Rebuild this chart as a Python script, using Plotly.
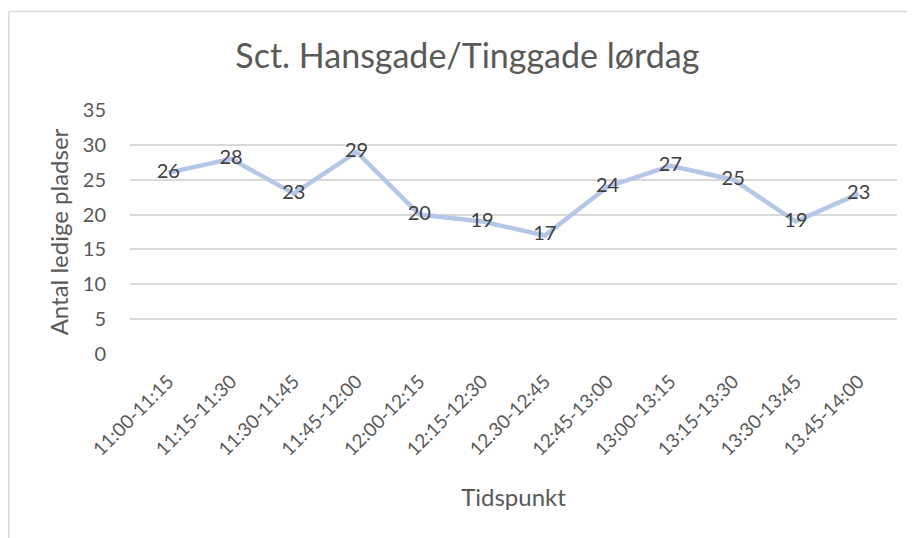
import plotly.graph_objects as go

categories = ["11:00-11:15", "11:15-11:30", "11:30-11:45", "11:45-12:00", "12:00-12:15",
              "12:15-12:30", "12.30-12:45", "12:45-13:00", "13:00-13:15", "13:15-13:30",
              "13:30-13:45", "13.45-14:00"]
values = [26, 28, 23, 29, 20, 19, 17, 24, 27, 25, 19, 23]

title_text = "Sct. Hansgade/Tinggade lørdag"
x_title = "Tidspunkt"
y_title = "Antal ledige pladser"

FONT = "Lato, Carlito, Calibri, sans-serif"

fig = go.Figure()
fig.add_trace(go.Scatter(
    x=categories, y=values, mode="lines+text",
    line=dict(color="#B4C7E7", width=4.5),
    text=[str(v) for v in values], textposition="middle center",
    textfont=dict(family=FONT, size=20, color="#404040"),
    hoverinfo="x+y", showlegend=False, cliponaxis=False,
))

fig.update_layout(
    width=915, height=538,
    margin=dict(l=122, r=26, t=102, b=192),
    paper_bgcolor="white", plot_bgcolor="white",
    font=dict(family=FONT, color="#595959"),
    title=dict(text=title_text, x=0.502, xanchor="center", y=0.911, yanchor="middle",
               font=dict(family=FONT, size=34, color="#595959")),
    xaxis=dict(type="category", tickangle=-45, showgrid=False, zeroline=False,
               showline=False, ticks="outside", ticklen=8, tickcolor="rgba(0,0,0,0)",
               tickfont=dict(family=FONT, size=19, color="#595959"),
               title=dict(text=x_title, font=dict(family=FONT, size=24, color="#595959"), standoff=30)),
    yaxis=dict(range=[0, 35], dtick=5, showgrid=True, gridcolor="#D9D9D9", gridwidth=1.5,
               zeroline=False, showline=False, ticks="", ticklabelstandoff=23,
               tickfont=dict(family=FONT, size=20, color="#595959"),
               title=dict(text=y_title, font=dict(family=FONT, size=24, color="#595959"), standoff=7)),
    shapes=[
        dict(type="line", xref="paper", yref="paper", x0=-0.158, x1=1.05, y0=1.404, y1=1.404,
             line=dict(color="#D9D9D9", width=1.5)),
        dict(type="line", xref="paper", yref="paper", x0=-0.158, x1=-0.158, y0=1.404, y1=-0.8,
             line=dict(color="#D9D9D9", width=1.5)),
    ],
)

fig.write_html("out.html")
